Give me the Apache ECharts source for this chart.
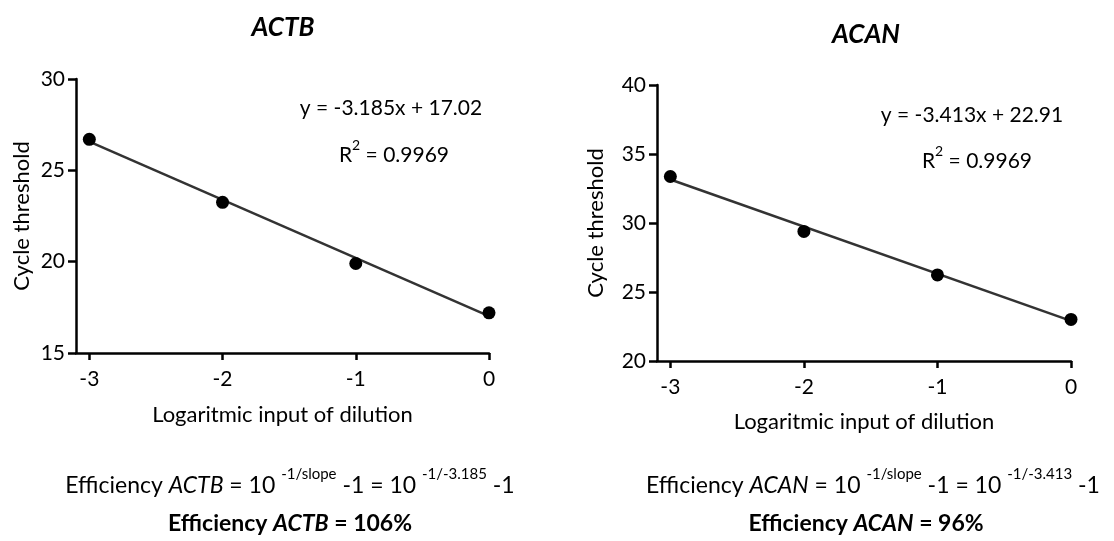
<!DOCTYPE html>
<html>
<head>
<meta charset="utf-8">
<script src="https://cdn.jsdelivr.net/npm/echarts@6/dist/echarts.min.js"></script>
<style>html,body{margin:0;padding:0;background:#fff}#c{width:1114px;height:541px}</style>
</head>
<body>
<div id="c"></div>
<script>
// ---- data ----
const dilution = [-3, -2, -1, 0];
const actbCt = [26.7, 23.25, 19.9, 17.2];
const acanCt = [33.37, 29.39, 26.24, 23.01];
const fitX = [-3, 0];
const actbFit = [26.575, 17.02];
const acanFit = [33.149, 22.91];
const xTicks = [-3, -2, -1, 0];
const titles = ['ACTB', 'ACAN'];
const equations = ['y = -3.185x + 17.02', 'y = -3.413x + 22.91'];
const r2 = ['0.9969', '0.9969'];
const slopes = ['-3.185', '-3.413'];
const efficiency = ['106%', '96%'];

const FONT = 'Lato, "Open Sans", sans-serif';
const chart = echarts.init(document.getElementById('c'), null, {renderer: 'canvas'});

function xAxis(gi, nameGap) {
  return {
    type: 'value', gridIndex: gi, min: -3.1, max: 0,
    name: 'Logaritmic input of dilution', nameLocation: 'middle', nameGap: nameGap,
    nameTextStyle: {fontFamily: FONT, fontSize: 22, color: '#000'},
    axisLine: {onZero: false, lineStyle: {color: '#000', width: 2.5}},
    axisTick: {show: true, length: 7, customValues: xTicks, lineStyle: {color: '#000', width: 2.5}},
    axisLabel: {customValues: xTicks, fontFamily: FONT, fontSize: 21, color: '#000', margin: 16},
    splitLine: {show: false}
  };
}
function yAxis(gi, min, max, nameGap) {
  return {
    type: 'value', gridIndex: gi, min: min, max: max, interval: 5,
    name: 'Cycle threshold', nameLocation: 'middle', nameGap: nameGap,
    nameTextStyle: {fontFamily: FONT, fontSize: 22, color: '#000'},
    axisLine: {show: true, onZero: false, lineStyle: {color: '#000', width: 2.5}},
    axisTick: {show: true, length: 8, lineStyle: {color: '#000', width: 2.5}},
    axisLabel: {fontFamily: FONT, fontSize: 21, color: '#000', margin: 11},
    splitLine: {show: false}
  };
}
function pts(xs, ys) { return xs.map((x, i) => [x, ys[i]]); }

const supRich = {
  n: {fontFamily: FONT, fontSize: 23, color: '#000', lineHeight: 30, verticalAlign: 'bottom'},
  i: {fontFamily: FONT, fontSize: 23, fontStyle: 'italic', color: '#000', lineHeight: 30, verticalAlign: 'bottom'},
  s: {fontFamily: FONT, fontSize: 15, color: '#000', lineHeight: 30, verticalAlign: 'top'},
  b: {fontFamily: FONT, fontSize: 23, fontWeight: 'bold', color: '#000', lineHeight: 30},
  bi: {fontFamily: FONT, fontSize: 23, fontWeight: 'bold', fontStyle: 'italic', color: '#000', lineHeight: 30}
};
const r2Rich = {
  n: {fontFamily: FONT, fontSize: 21, color: '#000', lineHeight: 27, verticalAlign: 'bottom'},
  s: {fontFamily: FONT, fontSize: 14, color: '#000', lineHeight: 27, verticalAlign: 'top'}
};

const centers = [283, 866];
const eqPos = [[391, 108, 394, 152], [972, 115, 977, 158]];
const effPos = [[290, 482, 290, 524], [873, 482, 866, 524]];
const graphics = [];
for (let k = 0; k < 2; k++) {
  graphics.push({type: 'text', x: centers[k], y: k === 0 ? 28 : 35,
    style: {text: titles[k], font: 'italic bold 26px ' + FONT, fill: '#000', textAlign: 'center', textVerticalAlign: 'middle'}});
  graphics.push({type: 'text', x: eqPos[k][0], y: eqPos[k][1],
    style: {text: equations[k], font: '21px ' + FONT, fill: '#000', textAlign: 'center', textVerticalAlign: 'middle'}});
  graphics.push({type: 'text', x: eqPos[k][2], y: eqPos[k][3],
    style: {text: '{n|R}{s|2}{n| = ' + r2[k] + '}', rich: r2Rich, textAlign: 'center', textVerticalAlign: 'middle'}});
  graphics.push({type: 'text', x: effPos[k][0], y: effPos[k][1],
    style: {text: '{n|Efficiency }{i|' + titles[k] + '}{n| = 10 }{s|-1/slope}{n| -1 = 10 }{s|-1/' + slopes[k] + '}{n| -1}',
      rich: supRich, textAlign: 'center', textVerticalAlign: 'middle'}});
  graphics.push({type: 'text', x: effPos[k][2], y: effPos[k][3],
    style: {text: '{b|Efficiency }{bi|' + titles[k] + '}{b| = ' + efficiency[k] + '}',
      rich: supRich, textAlign: 'center', textVerticalAlign: 'middle'}});
}

const option = {
  backgroundColor: '#fff',
  animation: false,
  grid: [
    {left: 76, top: 79, width: 413, height: 274},
    {left: 657, top: 85, width: 414, height: 276}
  ],
  xAxis: [xAxis(0, 51), xAxis(1, 50)],
  yAxis: [yAxis(0, 15, 30, 43), yAxis(1, 20, 40, 50)],
  graphic: graphics,
  series: [
    {type: 'line', xAxisIndex: 0, yAxisIndex: 0, data: pts(fitX, actbFit), symbol: 'none',
      lineStyle: {color: '#333', width: 2.5}, z: 2},
    {type: 'scatter', xAxisIndex: 0, yAxisIndex: 0, data: pts(dilution, actbCt), symbol: 'circle', symbolSize: 13,
      itemStyle: {color: '#000', opacity: 1}, z: 3},
    {type: 'line', xAxisIndex: 1, yAxisIndex: 1, data: pts(fitX, acanFit), symbol: 'none',
      lineStyle: {color: '#333', width: 2.5}, z: 2},
    {type: 'scatter', xAxisIndex: 1, yAxisIndex: 1, data: pts(dilution, acanCt), symbol: 'circle', symbolSize: 13,
      itemStyle: {color: '#000', opacity: 1}, z: 3}
  ]
};
chart.setOption(option);
</script>
</body>
</html>
